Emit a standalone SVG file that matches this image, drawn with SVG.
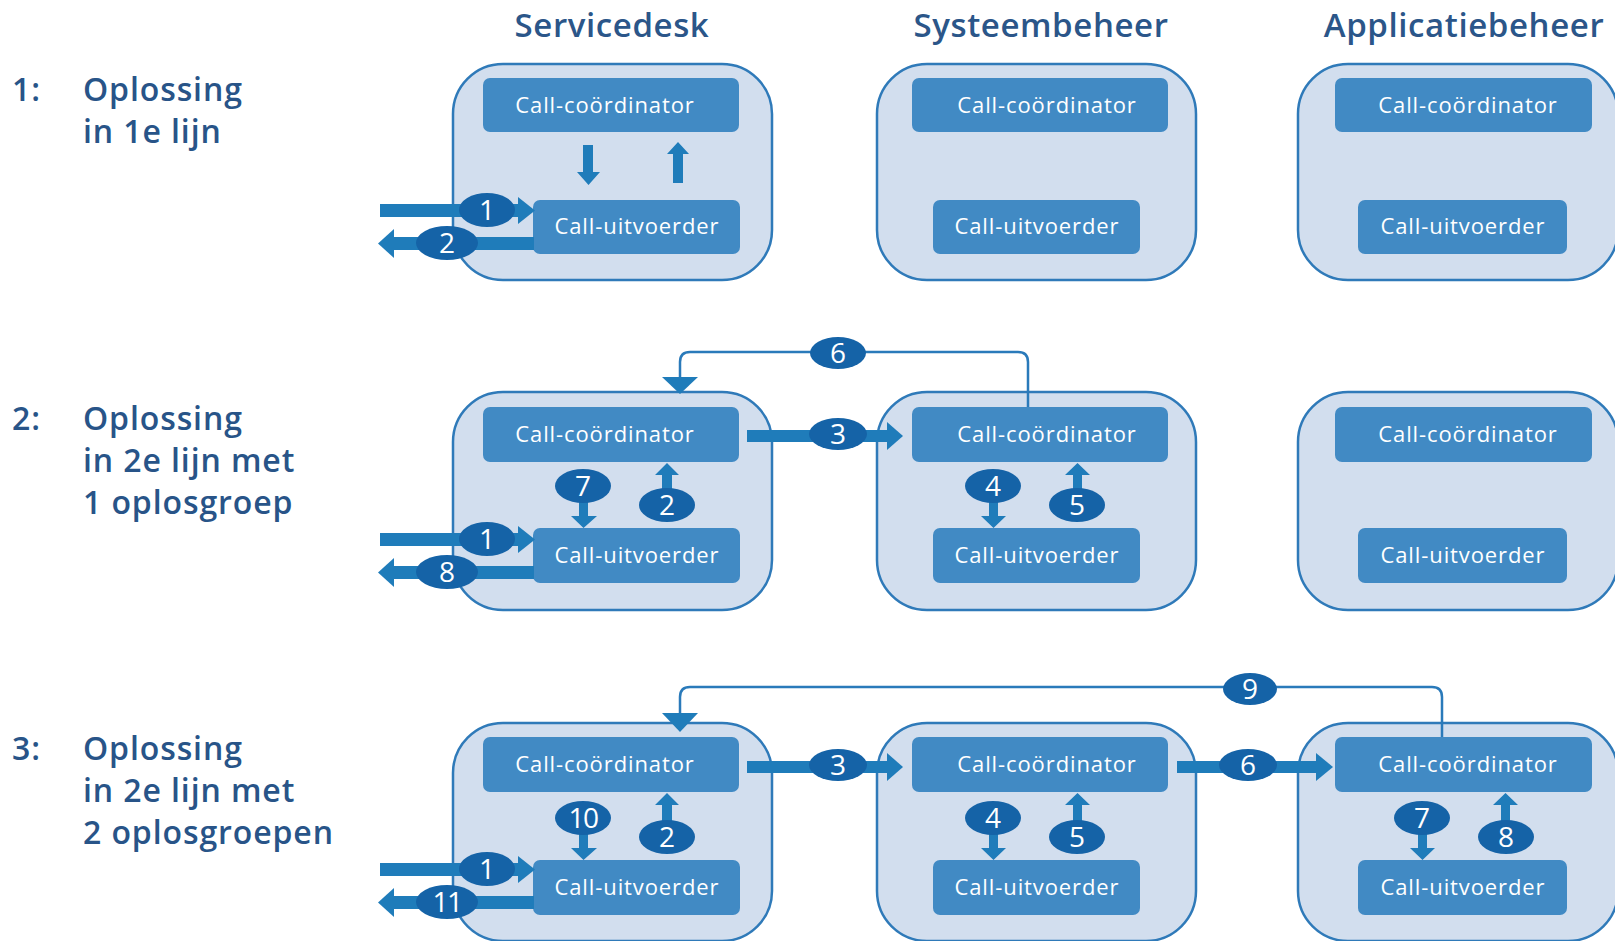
<svg xmlns="http://www.w3.org/2000/svg" width="1615" height="941" viewBox="0 0 1615 941">
<style>
.hdr{font-family:"Open Sans","Noto Sans",sans-serif;font-size:33px;font-weight:600;fill:#2b5689;text-anchor:middle;letter-spacing:0.6px}
.lbl{font-family:"Open Sans","Noto Sans",sans-serif;font-size:32px;font-weight:600;fill:#285488;letter-spacing:0.9px}
.cont{fill:#d2deee;stroke:#2f7ab9;stroke-width:2.5}
.box{fill:#418ac4}
.bt{font-family:"Open Sans","Noto Sans",sans-serif;font-size:22px;fill:#ffffff;text-anchor:middle;letter-spacing:0.9px}
.arr{fill:#1f7cba}
.ell{fill:#1563a7}
.num{font-family:"Open Sans","Noto Sans",sans-serif;font-size:28px;fill:#ffffff;text-anchor:middle}
.ln{fill:none;stroke:#2a7aba;stroke-width:2.5}
</style>
<defs>
<g id="incoming">
<rect x="380" y="204" width="140" height="13" class="arr"/>
<polygon points="518,197 535,210.5 518,224" class="arr"/>
</g>
<g id="outgoing">
<rect x="392" y="237" width="142" height="13" class="arr"/>
<polygon points="394,229 378,243.5 394,258" class="arr"/>
</g>
</defs>

<g id="headers">
<text class="hdr" x="612" y="37">Servicedesk</text>
<text class="hdr" x="1041" y="37">Systeembeheer</text>
<text class="hdr" x="1464" y="37">Applicatiebeheer</text>
</g>

<g id="row-labels">
<text class="lbl" x="12" y="101">1:</text>
<text class="lbl" x="83" y="101">Oplossing</text>
<text class="lbl" x="83" y="143">in 1e lijn</text>
<text class="lbl" x="12" y="430">2:</text>
<text class="lbl" x="83" y="430">Oplossing</text>
<text class="lbl" x="83" y="472">in 2e lijn met</text>
<text class="lbl" x="83" y="514">1 oplosgroep</text>
<text class="lbl" x="12" y="760">3:</text>
<text class="lbl" x="83" y="760">Oplossing</text>
<text class="lbl" x="83" y="802">in 2e lijn met</text>
<text class="lbl" x="83" y="844">2 oplosgroepen</text>
</g>

<!-- ROW 1 -->
<g id="row1-nodes">
<g id="r1-servicedesk">
<rect class="cont" x="453" y="64" width="319" height="216" rx="50"/>
<g id="r1-sd-coord"><rect class="box" x="483" y="78" width="256" height="54" rx="7"/><text class="bt" x="605" y="113">Call-coördinator</text></g>
<g id="r1-sd-uitv"><rect class="box" x="533" y="200" width="207" height="54" rx="7"/><text class="bt" x="637" y="234">Call-uitvoerder</text></g>
</g>
<g id="r1-systeembeheer">
<rect class="cont" x="877" y="64" width="319" height="216" rx="50"/>
<g id="r1-sb-coord"><rect class="box" x="912" y="78" width="256" height="54" rx="7"/><text class="bt" x="1047" y="113">Call-coördinator</text></g>
<g id="r1-sb-uitv"><rect class="box" x="933" y="200" width="207" height="54" rx="7"/><text class="bt" x="1037" y="234">Call-uitvoerder</text></g>
</g>
<g id="r1-applicatiebeheer">
<rect class="cont" x="1298" y="64" width="320" height="216" rx="50"/>
<g id="r1-ab-coord"><rect class="box" x="1335" y="78" width="257" height="54" rx="7"/><text class="bt" x="1468" y="113">Call-coördinator</text></g>
<g id="r1-ab-uitv"><rect class="box" x="1358" y="200" width="209" height="54" rx="7"/><text class="bt" x="1463" y="234">Call-uitvoerder</text></g>
</g>
</g>
<g id="row1-connectors">
<use href="#incoming"/>
<use href="#outgoing"/>
<path class="arr" d="M583,145 H593 V172 H600 L588.5,185 L577,172 H583 Z"/>
<path class="arr" d="M673,183 H683 V154 H689 L678,142 L667,154 H673 Z"/>
<ellipse class="ell" cx="487" cy="210" rx="28" ry="17"/><text class="num" x="487" y="220">1</text>
<ellipse class="ell" cx="447" cy="243" rx="31" ry="17"/><text class="num" x="447" y="253">2</text>
</g>

<!-- ROW 2 -->
<g id="row2" transform="translate(0,329)">
<g id="row2-nodes">
<g id="r2-servicedesk">
<rect class="cont" x="453" y="63" width="319" height="218" rx="50"/>
<g id="r2-sd-coord"><rect class="box" x="483" y="78" width="256" height="55" rx="7"/><text class="bt" x="605" y="113">Call-coördinator</text></g>
<g id="r2-sd-uitv"><rect class="box" x="533" y="199" width="207" height="55" rx="7"/><text class="bt" x="637" y="234">Call-uitvoerder</text></g>
</g>
<g id="r2-systeembeheer">
<rect class="cont" x="877" y="63" width="319" height="218" rx="50"/>
<g id="r2-sb-coord"><rect class="box" x="912" y="78" width="256" height="55" rx="7"/><text class="bt" x="1047" y="113">Call-coördinator</text></g>
<g id="r2-sb-uitv"><rect class="box" x="933" y="199" width="207" height="55" rx="7"/><text class="bt" x="1037" y="234">Call-uitvoerder</text></g>
</g>
<g id="r2-applicatiebeheer">
<rect class="cont" x="1298" y="63" width="320" height="218" rx="50"/>
<g id="r2-ab-coord"><rect class="box" x="1335" y="78" width="257" height="55" rx="7"/><text class="bt" x="1468" y="113">Call-coördinator</text></g>
<g id="r2-ab-uitv"><rect class="box" x="1358" y="199" width="209" height="55" rx="7"/><text class="bt" x="1463" y="234">Call-uitvoerder</text></g>
</g>
</g>
<g id="row2-connectors">
<use href="#incoming"/>
<use href="#outgoing"/>
<path class="ln" d="M1028,78 V33 Q1028,23 1018,23 H690 Q680,23 680,33 V50"/>
<polygon class="arr" points="662,48 698,48 680,65"/>
<ellipse class="ell" cx="838" cy="24" rx="28" ry="16"/><text class="num" x="838" y="34">6</text>
<rect class="arr" x="747" y="101" width="141" height="12"/>
<polygon class="arr" points="887,93 903,107 887,121"/>
<ellipse class="ell" cx="838" cy="105" rx="29" ry="16"/><text class="num" x="838" y="115">3</text>
<path class="arr" d="M579,165 H588 V187 H597 L583.5,199 L571,187 H579 Z"/>
<ellipse class="ell" cx="583" cy="157" rx="28" ry="17"/><text class="num" x="583" y="167">7</text>
<path class="arr" d="M662,168 H672 V146 H679 L667,134 L655,146 H662 Z"/>
<ellipse class="ell" cx="667" cy="176" rx="28" ry="17"/><text class="num" x="667" y="186">2</text>
<path class="arr" d="M989,165 H998 V187 H1006 L993.5,199 L981,187 H989 Z"/>
<ellipse class="ell" cx="993" cy="157" rx="28" ry="17"/><text class="num" x="993" y="167">4</text>
<path class="arr" d="M1073,168 H1082 V146 H1090 L1077.5,134 L1065,146 H1073 Z"/>
<ellipse class="ell" cx="1077" cy="176" rx="28" ry="17"/><text class="num" x="1077" y="186">5</text>
<ellipse class="ell" cx="487" cy="210" rx="28" ry="17"/><text class="num" x="487" y="220">1</text>
<ellipse class="ell" cx="447" cy="243" rx="31" ry="17"/><text class="num" x="447" y="253">8</text>
</g>
</g>

<!-- ROW 3 -->
<g id="row3" transform="translate(0,659)">
<g id="row3-nodes">
<g id="r3-servicedesk">
<rect class="cont" x="453" y="64" width="319" height="218" rx="50"/>
<g id="r3-sd-coord"><rect class="box" x="483" y="78" width="256" height="55" rx="7"/><text class="bt" x="605" y="113">Call-coördinator</text></g>
<g id="r3-sd-uitv"><rect class="box" x="533" y="201" width="207" height="55" rx="7"/><text class="bt" x="637" y="236">Call-uitvoerder</text></g>
</g>
<g id="r3-systeembeheer">
<rect class="cont" x="877" y="64" width="319" height="218" rx="50"/>
<g id="r3-sb-coord"><rect class="box" x="912" y="78" width="256" height="55" rx="7"/><text class="bt" x="1047" y="113">Call-coördinator</text></g>
<g id="r3-sb-uitv"><rect class="box" x="933" y="201" width="207" height="55" rx="7"/><text class="bt" x="1037" y="236">Call-uitvoerder</text></g>
</g>
<g id="r3-applicatiebeheer">
<rect class="cont" x="1298" y="64" width="320" height="218" rx="50"/>
<g id="r3-ab-coord"><rect class="box" x="1335" y="78" width="257" height="55" rx="7"/><text class="bt" x="1468" y="113">Call-coördinator</text></g>
<g id="r3-ab-uitv"><rect class="box" x="1358" y="201" width="209" height="55" rx="7"/><text class="bt" x="1463" y="236">Call-uitvoerder</text></g>
</g>
</g>
<g id="row3-connectors">
<use href="#incoming"/>
<use href="#outgoing"/>
<path class="ln" d="M1442,78 V38 Q1442,28 1432,28 H690 Q680,28 680,38 V55"/>
<polygon class="arr" points="662,54 698,54 680,73"/>
<ellipse class="ell" cx="1250" cy="30" rx="27" ry="16"/><text class="num" x="1250" y="40">9</text>
<rect class="arr" x="747" y="102" width="141" height="12"/>
<polygon class="arr" points="887,94 903,108 887,122"/>
<ellipse class="ell" cx="838" cy="106" rx="29" ry="16"/><text class="num" x="838" y="116">3</text>
<rect class="arr" x="1177" y="102" width="141" height="12"/>
<polygon class="arr" points="1316,94 1333,108 1316,122"/>
<ellipse class="ell" cx="1248" cy="106" rx="29" ry="16"/><text class="num" x="1248" y="116">6</text>
<path class="arr" d="M579,167 H588 V189 H597 L583.5,201 L571,189 H579 Z"/>
<ellipse class="ell" cx="583" cy="159" rx="28" ry="17"/><text class="num" x="583" y="169" letter-spacing="-1.5">10</text>
<path class="arr" d="M662,170 H672 V146 H679 L667,134 L655,146 H662 Z"/>
<ellipse class="ell" cx="667" cy="178" rx="28" ry="17"/><text class="num" x="667" y="188">2</text>
<path class="arr" d="M989,167 H998 V189 H1006 L993.5,201 L981,189 H989 Z"/>
<ellipse class="ell" cx="993" cy="159" rx="28" ry="17"/><text class="num" x="993" y="169">4</text>
<path class="arr" d="M1073,170 H1082 V146 H1090 L1077.5,134 L1065,146 H1073 Z"/>
<ellipse class="ell" cx="1077" cy="178" rx="28" ry="17"/><text class="num" x="1077" y="188">5</text>
<path class="arr" d="M1418,167 H1427 V189 H1435 L1422.5,201 L1410,189 H1418 Z"/>
<ellipse class="ell" cx="1422" cy="159" rx="28" ry="17"/><text class="num" x="1422" y="169">7</text>
<path class="arr" d="M1501,170 H1510 V146 H1518 L1505.5,134 L1493,146 H1501 Z"/>
<ellipse class="ell" cx="1506" cy="178" rx="28" ry="17"/><text class="num" x="1506" y="188">8</text>
<ellipse class="ell" cx="487" cy="210" rx="28" ry="17"/><text class="num" x="487" y="220">1</text>
<ellipse class="ell" cx="447" cy="243" rx="31" ry="17"/><text class="num" x="447" y="253" letter-spacing="-1.5">11</text>
</g>
</g>
</svg>
